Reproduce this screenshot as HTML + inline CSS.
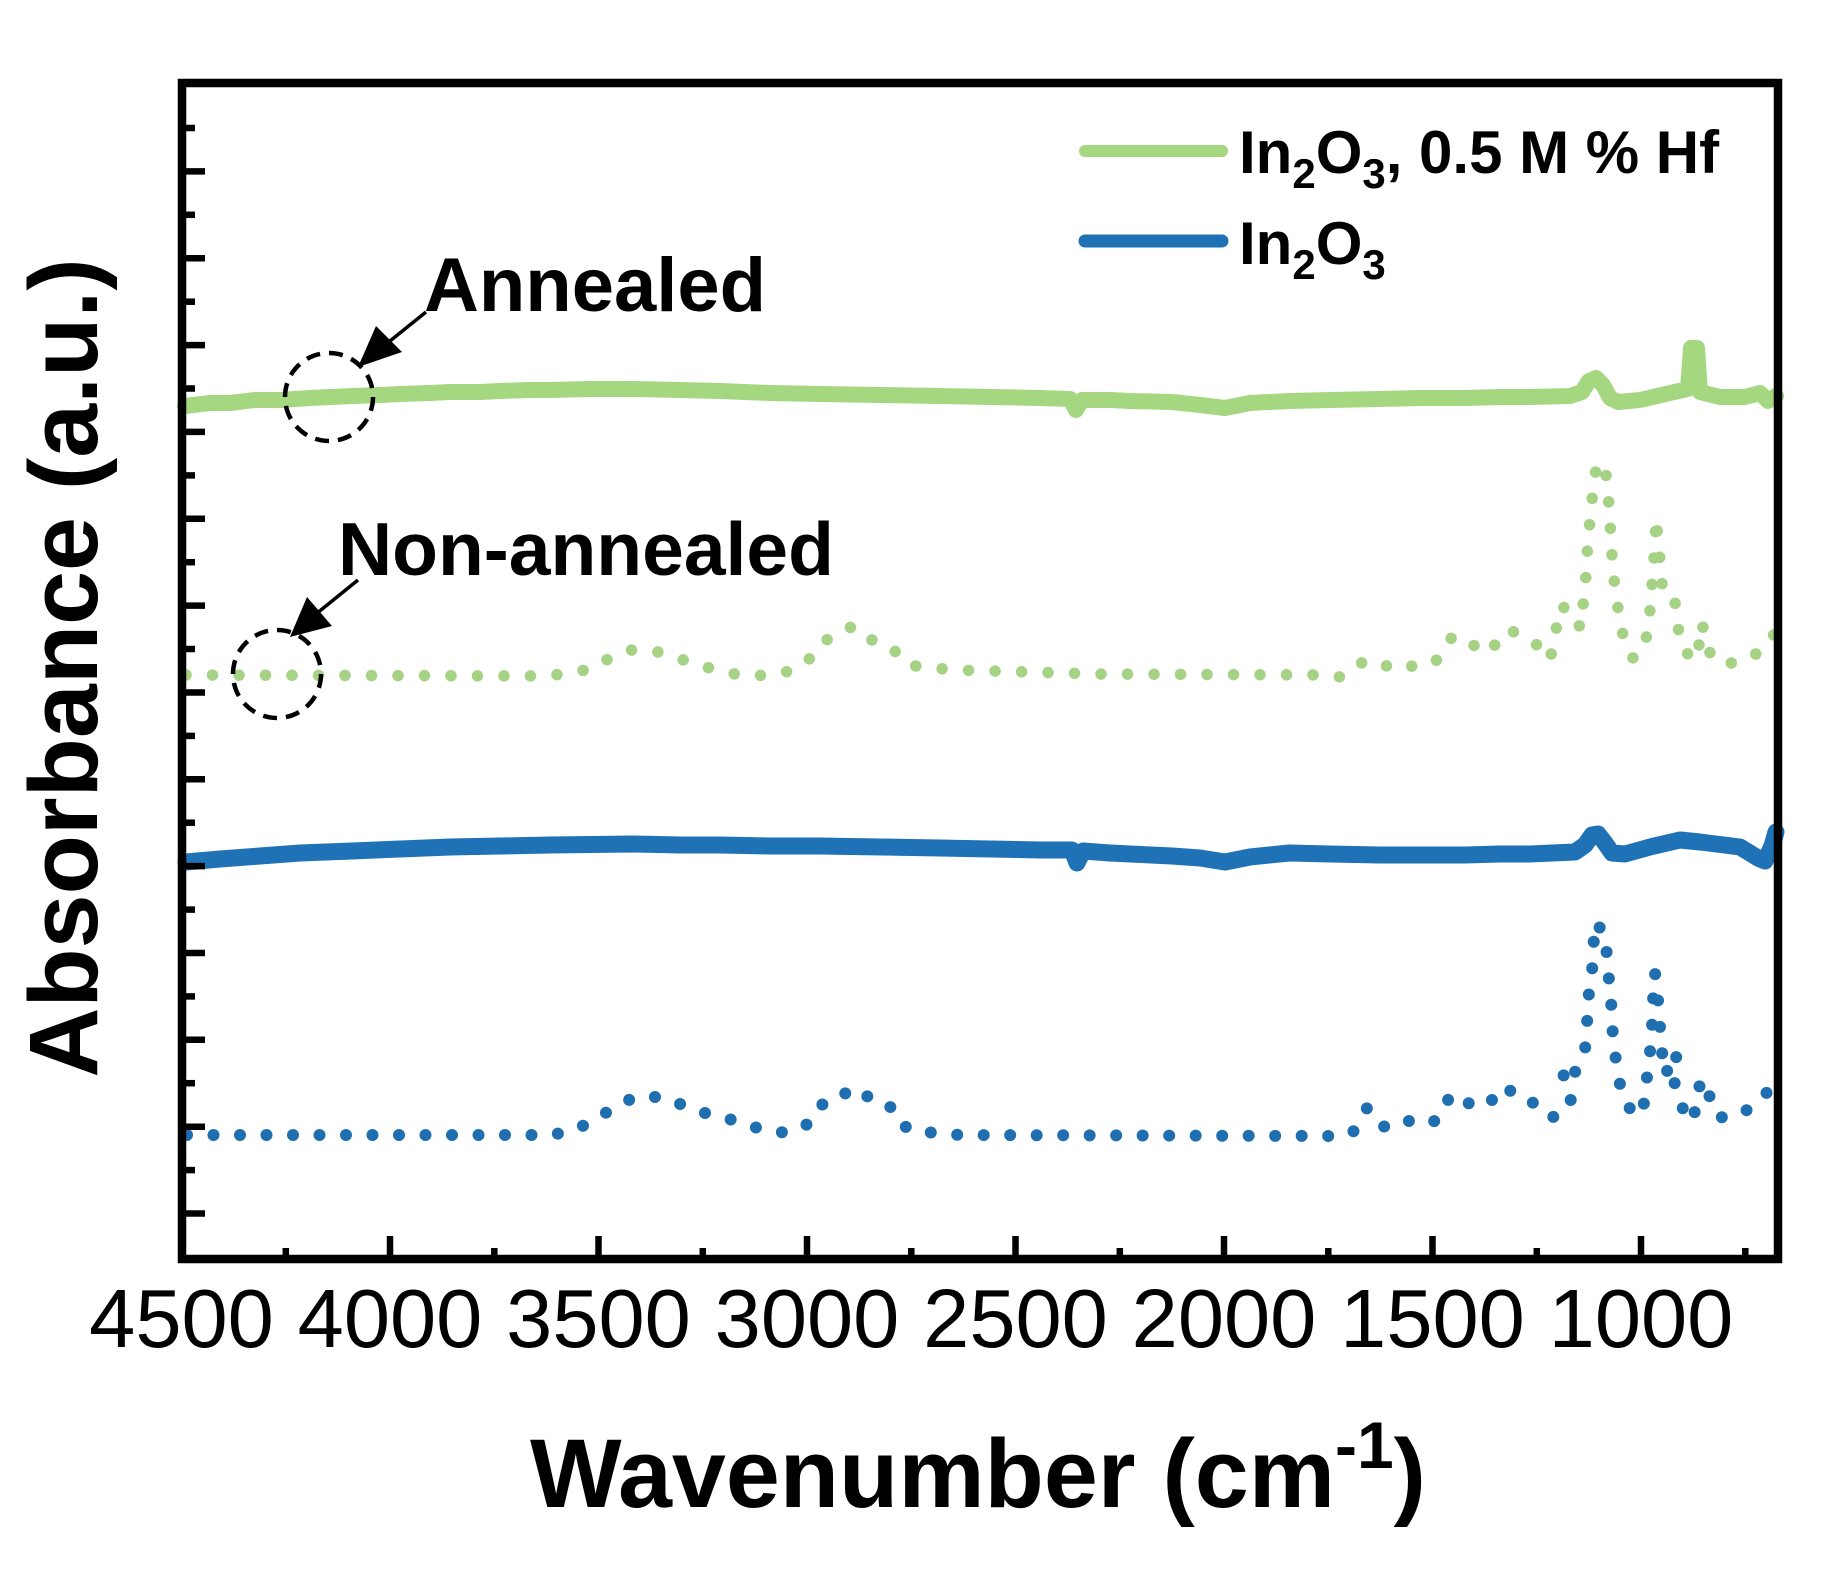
<!DOCTYPE html>
<html>
<head>
<meta charset="utf-8">
<style>
html,body{margin:0;padding:0;background:#fff;}
svg{display:block;}
text{font-family:"Liberation Sans",Arial,sans-serif;fill:#000;}
</style>
</head>
<body>
<svg width="1839" height="1569" viewBox="0 0 1839 1569" xmlns="http://www.w3.org/2000/svg">
<rect x="0" y="0" width="1839" height="1569" fill="#fff"/>

<!-- green solid (annealed, Hf) -->
<path d="M185,406 L210,403 L230,403 L255,400 L280,400 L310,398 L352,396 L380,395 L400,394 L430,393 L450,392 L480,392 L500,391 L530,390 L550,390 L590,389 L633,389 L680,390 L720,391 L770,393 L820,394 L880,395 L940,396 L990,397 L1040,398 L1070,399 L1076,410 L1082,400 L1110,400 L1130,401 L1172,402 L1200,405 L1225,408 L1250,403 L1289,401 L1330,400 L1380,399 L1420,398 L1465,398 L1500,397 L1530,397 L1570,396 L1582,392 L1589,381 L1596,378 L1603,385 L1610,398 L1618,402 L1640,400 L1670,393 L1688,389 L1691,348 L1697,348 L1700,392 L1720,397 L1745,397 L1760,393 L1768,401 L1776,396" fill="none" stroke="#a4d77f" stroke-width="16" stroke-linejoin="round" stroke-linecap="round"/>

<!-- blue solid (annealed) -->
<path d="M186,862 L220,859 L260,856 L300,853 L352,851 L400,849 L450,847 L500,846 L550,845 L633,844 L680,845 L720,845 L770,846 L820,846 L880,847 L940,848 L990,849 L1040,850 L1072,850 L1077,863 L1083,851 L1110,853 L1130,854 L1172,856 L1200,858 L1225,862 L1250,857 L1289,853 L1330,854 L1380,855 L1420,855 L1465,855 L1500,854 L1530,854 L1575,852 L1585,845 L1592,835 L1598,834 L1605,843 L1612,853 L1625,854 L1650,847 L1680,840 L1700,842 L1740,847 L1758,858 L1765,861 L1772,846 L1776,832" fill="none" stroke="#1f72b5" stroke-width="17" stroke-linejoin="round" stroke-linecap="round"/>

<!-- green dotted (non-annealed, Hf) -->
<path d="M186,675 L540,676 L565,674 L590,669 L610,658 L630,650 L655,651 L670,656 L697,664 L722,672 L748,676 L770,675 L786,672 L806,663 L820,645 L836,633 L854,626 L872,640 L891,647 L908,665 L932,668 L957,670 L1100,674 L1330,675 L1340,677 L1363,662 L1379,668 L1400,662 L1417,668 L1437,660 L1452,637 L1472,647 L1485,637 L1497,647 L1512,631 L1537,645 L1550,660 L1556,630 L1560,606 L1575,612 L1580,628 L1585,590 L1588,540 L1593,490 L1597,462 L1606,475 L1609,505 L1612,555 L1615,590 L1622,632 L1633,658 L1645,647 L1650,610 L1655,545 L1656,518 L1660,560 L1663,595 L1675,602 L1678,628 L1685,652 L1697,660 L1702,623 L1708,650 L1718,663 L1737,663 L1760,652 L1776,632" fill="none" stroke="#a6d285" stroke-width="11.5" stroke-linecap="round" stroke-linejoin="round" stroke-dasharray="0 26.5"/>

<!-- blue dotted (non-annealed) -->
<path d="M187,1135 L552,1135 L574,1130 L595,1120 L613,1108 L635,1097 L663,1097 L685,1106 L708,1114 L729,1119 L750,1126 L770,1131 L789,1133 L812,1122 L825,1100 L841,1095 L859,1088 L875,1104 L895,1108 L907,1129 L934,1133 L960,1135 L1330,1136 L1335,1137 L1353,1132 L1367,1108 L1383,1127 L1403,1119 L1421,1125 L1438,1120 L1451,1094 L1472,1105 L1487,1097 L1497,1103 L1505,1090 L1520,1092 L1538,1107 L1550,1118 L1565,1113 L1572,1097 L1560,1066 L1575,1072 L1585,1050 L1587,1025 L1588,1000 L1592,973 L1593,948 L1596,922 L1606,937 L1607,963 L1610,988 L1612,1015 L1613,1040 L1617,1067 L1621,1090 L1634,1117 L1645,1102 L1647,1077 L1650,1052 L1652,1027 L1653,1000 L1655,973 L1658,1000 L1660,1027 L1662,1052 L1665,1075 L1677,1052 L1673,1077 L1680,1103 L1690,1122 L1698,1105 L1700,1080 L1707,1085 L1713,1112 L1723,1118 L1743,1113 L1762,1098 L1776,1082" fill="none" stroke="#1f6fb0" stroke-width="12" stroke-linecap="round" stroke-linejoin="round" stroke-dasharray="0 26.5"/>

<!-- frame -->
<rect x="182" y="83" width="1596" height="1176" fill="none" stroke="#000" stroke-width="8.5"/>

<!-- x ticks -->
<g stroke="#000" stroke-width="6.5">
<line x1="390" y1="1259" x2="390" y2="1236"/>
<line x1="598.5" y1="1259" x2="598.5" y2="1236"/>
<line x1="807" y1="1259" x2="807" y2="1236"/>
<line x1="1015.5" y1="1259" x2="1015.5" y2="1236"/>
<line x1="1224" y1="1259" x2="1224" y2="1236"/>
<line x1="1432.5" y1="1259" x2="1432.5" y2="1236"/>
<line x1="1641" y1="1259" x2="1641" y2="1236"/>
<line x1="285.8" y1="1259" x2="285.8" y2="1248"/>
<line x1="494.3" y1="1259" x2="494.3" y2="1248"/>
<line x1="702.8" y1="1259" x2="702.8" y2="1248"/>
<line x1="911.3" y1="1259" x2="911.3" y2="1248"/>
<line x1="1119.8" y1="1259" x2="1119.8" y2="1248"/>
<line x1="1328.3" y1="1259" x2="1328.3" y2="1248"/>
<line x1="1536.8" y1="1259" x2="1536.8" y2="1248"/>
<line x1="1745.3" y1="1259" x2="1745.3" y2="1248"/>
</g>

<!-- y ticks -->
<g stroke="#000" stroke-width="6.5">
<line x1="182" y1="128" x2="195" y2="128"/>
<line x1="182" y1="171.4" x2="205" y2="171.4"/>
<line x1="182" y1="214.8" x2="195" y2="214.8"/>
<line x1="182" y1="258.3" x2="205" y2="258.3"/>
<line x1="182" y1="301.7" x2="195" y2="301.7"/>
<line x1="182" y1="345.1" x2="205" y2="345.1"/>
<line x1="182" y1="388.5" x2="195" y2="388.5"/>
<line x1="182" y1="431.9" x2="205" y2="431.9"/>
<line x1="182" y1="475.4" x2="195" y2="475.4"/>
<line x1="182" y1="518.8" x2="205" y2="518.8"/>
<line x1="182" y1="562.2" x2="195" y2="562.2"/>
<line x1="182" y1="605.6" x2="205" y2="605.6"/>
<line x1="182" y1="649" x2="195" y2="649"/>
<line x1="182" y1="692.5" x2="205" y2="692.5"/>
<line x1="182" y1="735.9" x2="195" y2="735.9"/>
<line x1="182" y1="779.3" x2="205" y2="779.3"/>
<line x1="182" y1="822.7" x2="195" y2="822.7"/>
<line x1="182" y1="866.1" x2="205" y2="866.1"/>
<line x1="182" y1="909.6" x2="195" y2="909.6"/>
<line x1="182" y1="953" x2="205" y2="953"/>
<line x1="182" y1="996.4" x2="195" y2="996.4"/>
<line x1="182" y1="1039.8" x2="205" y2="1039.8"/>
<line x1="182" y1="1083.2" x2="195" y2="1083.2"/>
<line x1="182" y1="1126.7" x2="205" y2="1126.7"/>
<line x1="182" y1="1170.1" x2="195" y2="1170.1"/>
<line x1="182" y1="1213.5" x2="205" y2="1213.5"/>
</g>

<!-- x tick labels -->
<g font-size="83" text-anchor="middle">
<text x="181.5" y="1347">4500</text>
<text x="390" y="1347">4000</text>
<text x="598.5" y="1347">3500</text>
<text x="807" y="1347">3000</text>
<text x="1015.5" y="1347">2500</text>
<text x="1224" y="1347">2000</text>
<text x="1432.5" y="1347">1500</text>
<text x="1641" y="1347">1000</text>
</g>

<!-- axis titles -->
<text x="978" y="1507" text-anchor="middle" font-size="97" font-weight="bold">Wavenumber (cm<tspan font-size="66" dy="-39">-1</tspan><tspan dy="39">)</tspan></text>
<text transform="translate(97,668) rotate(-90)" text-anchor="middle" font-size="97" font-weight="bold">Absorbance (a.u.)</text>

<!-- legend -->
<line x1="1085" y1="151" x2="1222" y2="151" stroke="#a4d77f" stroke-width="12" stroke-linecap="round"/>
<line x1="1085" y1="241" x2="1222" y2="241" stroke="#1f72b5" stroke-width="13" stroke-linecap="round"/>
<text x="1239" y="173" font-size="60" font-weight="bold">In<tspan font-size="42" dy="15">2</tspan><tspan dy="-15">O</tspan><tspan font-size="42" dy="15">3</tspan><tspan dy="-15">, 0.5 M % Hf</tspan></text>
<text x="1239" y="264" font-size="60" font-weight="bold">In<tspan font-size="42" dy="15">2</tspan><tspan dy="-15">O</tspan><tspan font-size="42" dy="15">3</tspan></text>

<!-- annotations -->
<text x="424" y="311" font-size="76" font-weight="bold">Annealed</text>
<text x="338" y="575" font-size="75" font-weight="bold">Non-annealed</text>

<circle cx="329" cy="397" r="44" fill="none" stroke="#000" stroke-width="4.5" stroke-dasharray="14 9"/>
<circle cx="277" cy="674" r="44" fill="none" stroke="#000" stroke-width="4.5" stroke-dasharray="14 9"/>

<line x1="426" y1="312" x2="385" y2="345" stroke="#000" stroke-width="3.5"/>
<polygon points="358,367 376,326 402,352" fill="#000"/>
<line x1="358" y1="580" x2="316" y2="614" stroke="#000" stroke-width="3.5"/>
<polygon points="290,637 307,597 332,626" fill="#000"/>
</svg>
</body>
</html>
